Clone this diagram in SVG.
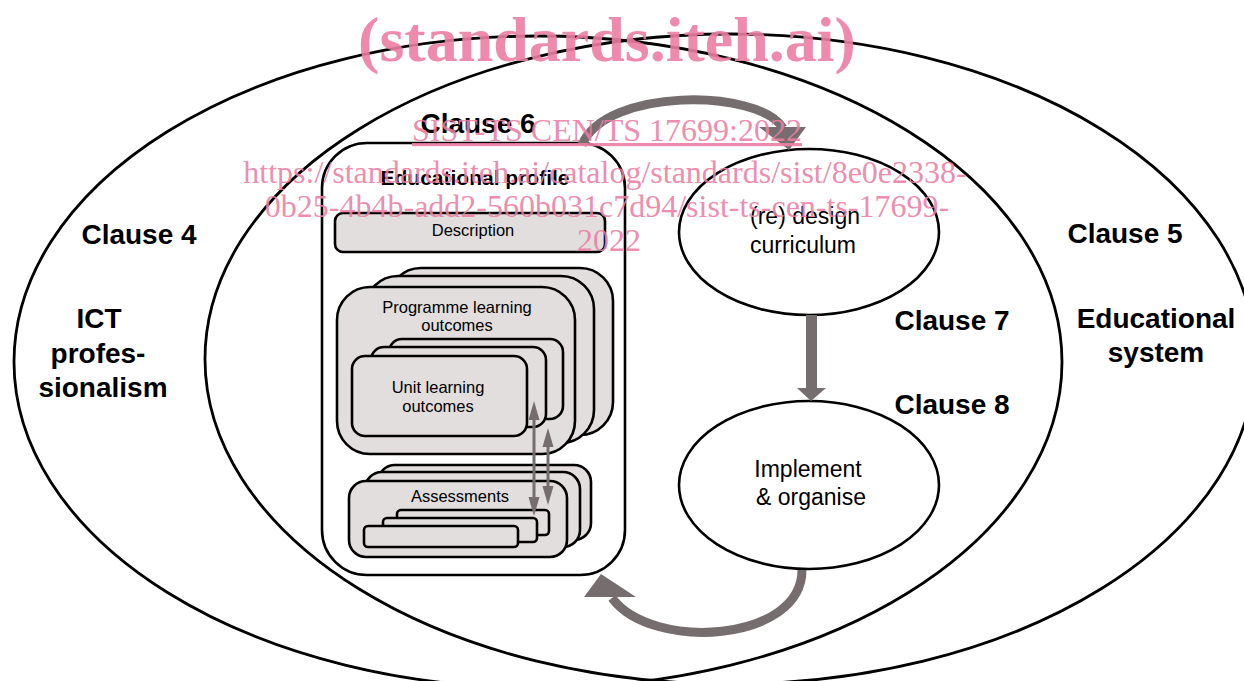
<svg xmlns="http://www.w3.org/2000/svg" width="1244" height="681" viewBox="0 0 1244 681">
<defs>
<style>
.big{fill:none;stroke:#000;stroke-width:2.8}
.node{fill:#fff;stroke:#000;stroke-width:2.6}
.gray{fill:#e2dedd;stroke:#000;stroke-width:2.6}
.lbl{font-family:"Liberation Sans",Arial,sans-serif;font-weight:bold;font-size:28px;fill:#000;text-anchor:middle}
.t{font-family:"Liberation Sans",Arial,sans-serif;font-size:16.5px;fill:#000;text-anchor:middle}
.tl{font-family:"Liberation Sans",Arial,sans-serif;font-size:23px;fill:#000;text-anchor:middle}
.arr{fill:none;stroke:#766d6e;stroke-width:9}
.ah{fill:#766d6e}
.dbl{stroke:#766d6e;stroke-width:3;fill:none}
.wm{font-family:"Liberation Serif","Times New Roman",serif;fill:#ec7ea3;fill-opacity:0.9;text-anchor:middle}
</style>
</defs>

<g id="ict-professionalism">
<ellipse class="big" cx="538" cy="362" rx="524" ry="326"/>
<text class="lbl" x="139" y="244">Clause 4</text>
<text class="lbl" x="99" y="328">ICT</text>
<text class="lbl" x="98" y="363">profes-</text>
<text class="lbl" x="103" y="397">sionalism</text>
</g>

<g id="educational-system">
<ellipse class="big" cx="730" cy="359" rx="525" ry="325"/>
<text class="lbl" x="1125" y="243">Clause 5</text>
<text class="lbl" x="1156" y="328">Educational</text>
<text class="lbl" x="1156" y="362">system</text>
</g>

<g id="educational-profile">
<text class="lbl" x="478" y="133">Clause 6</text>
<rect class="node" x="322" y="143" width="303" height="432" rx="45"/>
<text class="lbl" x="475" y="185" style="font-size:21px">Educational profile</text>
<g id="description">
<rect class="gray" x="335" y="213" width="270" height="39" rx="8"/>
<text class="t" x="473" y="236">Description</text>
</g>
<g id="programme-learning-outcomes">
<rect class="gray" x="388" y="268" width="225" height="167" rx="33"/>
<rect class="gray" x="365" y="276" width="229" height="167" rx="33"/>
<rect class="gray" x="337" y="287" width="238" height="167" rx="33"/>
<text class="t" x="457" y="313">Programme learning</text>
<text class="t" x="457" y="331">outcomes</text>
</g>
<g id="unit-learning-outcomes">
<rect class="gray" x="389" y="339" width="174" height="80" rx="13"/>
<rect class="gray" x="371" y="347" width="175" height="80" rx="13"/>
<rect class="gray" x="352" y="356" width="175" height="80" rx="13"/>
<text class="t" x="438" y="393">Unit learning</text>
<text class="t" x="438" y="412">outcomes</text>
</g>
<g id="assessments">
<rect class="gray" x="378" y="465" width="213" height="75" rx="17"/>
<rect class="gray" x="365" y="472" width="215" height="75" rx="17"/>
<rect class="gray" x="349" y="481" width="218" height="76" rx="17"/>
<text class="t" x="460" y="502">Assessments</text>
<rect class="gray" x="397" y="510" width="152" height="25" rx="4"/>
<rect class="gray" x="383" y="518" width="154" height="24" rx="4"/>
<rect class="gray" x="364" y="526" width="154" height="21" rx="4"/>
</g>
</g>

<g id="redesign-curriculum">
<ellipse class="node" cx="809" cy="232" rx="130" ry="83"/>
<text class="tl" x="805" y="224">(re) design</text>
<text class="tl" x="803" y="253">curriculum</text>
</g>

<g id="implement-organise">
<ellipse class="node" cx="809" cy="485" rx="130" ry="84"/>
<text class="tl" x="808" y="477">Implement</text>
<text class="tl" x="811" y="505">&amp; organise</text>
</g>

<g id="clause-labels">
<text class="lbl" x="952" y="330">Clause 7</text>
<text class="lbl" x="952" y="414">Clause 8</text>
</g>

<g id="connectors">
<path class="arr" d="M582 145 C605 88 757 88 783 128"/>
<path class="ah" d="M759 127 L806 127 L789 150 Z"/>
<rect class="ah" x="806" y="315" width="11" height="74"/>
<path class="ah" d="M797 388 L826 388 L811 401 Z"/>
<path class="arr" d="M802 570 C802 642 652 652 612 598"/>
<path class="ah" d="M584 597 L636 597 L601 574 Z"/>
<line class="dbl" x1="534" y1="418" x2="534" y2="499"/>
<path class="ah" d="M534 401 L539.5 420 L528.5 420 Z"/>
<path class="ah" d="M534 516 L539.5 497 L528.5 497 Z"/>
<line class="dbl" x1="548" y1="445" x2="548" y2="488"/>
<path class="ah" d="M548 428 L553.5 447 L542.5 447 Z"/>
<path class="ah" d="M548 505 L553.5 486 L542.5 486 Z"/>
</g>

<g id="watermark">
<text class="wm" x="607" y="61" style="font-size:64px;font-weight:bold">(standards.iteh.ai)</text>
<text class="wm" x="607" y="141" style="font-size:32px;text-decoration:underline">SIST-TS CEN/TS 17699:2022</text>
<text class="wm" x="605" y="183" style="font-size:32px">https://standards.iteh.ai/catalog/standards/sist/8e0e2338-</text>
<text class="wm" x="607" y="217" style="font-size:32px">0b25-4b4b-add2-560b031c7d94/sist-ts-cen-ts-17699-</text>
<text class="wm" x="609" y="251" style="font-size:32px">2022</text>
</g>
</svg>
